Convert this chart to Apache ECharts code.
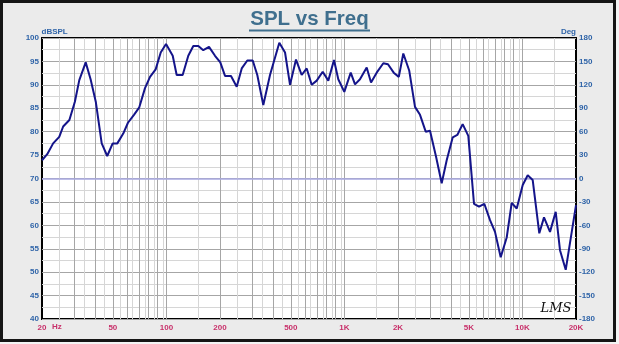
<!DOCTYPE html>
<html>
<head>
<meta charset="utf-8">
<script src="https://cdn.jsdelivr.net/npm/echarts@6/dist/echarts.min.js"></script>
<style>
  html, body { margin:0; padding:0; background:#f4f4f4; }
  #frame { position:absolute; left:0; top:0; width:616px; height:342px; box-sizing:border-box; border:3px solid #151515; background:#ebebeb; }
  #chart { position:absolute; left:0; top:0; width:619px; height:344px; }
</style>
</head>
<body>
<div id="frame"></div>
<div id="chart"></div>
<script>
// ---- data ----
const freqHz = [20,21.4,23.1,25.0,26.3,28.5,30.6,32.4,35.2,37.5,40.1,43.3,46.5,49.9,53.0,57.2,60.8,65.7,70.4,75.8,80.9,87.0,92.9,99.5,108.5,114.2,123.4,132.7,141.6,151.1,161.1,173.5,187.5,200.8,213.4,230.6,248.3,264.9,284.8,305.4,324,350.2,381.9,430.8,463.9,494.8,534.6,575.4,614,654.9,698.8,755.2,811.9,873.8,923.8,998.6,1085,1147,1223,1334,1411,1518,1654,1757,1892,2021,2142,2314,2492,2659,2862,3026,3270,3520,3755,4060,4308,4617,4966,5346,5705,6107,6577,7015,7551,8161,8706,9290,10040,10710,11420,12440,13220,14290,15380,16260,17510,20000];
const splDb = [73.9,75.2,77.5,78.9,81.1,82.5,86.4,91.0,94.8,91.2,86.4,77.5,74.8,77.5,77.5,79.6,81.9,83.6,85.2,89.3,91.7,93.3,96.9,98.7,96.2,92.1,92.1,96.2,98.3,98.3,97.4,98.1,96.2,94.8,91.9,91.9,89.6,93.5,95.2,95.2,92.1,85.7,92.1,99.0,96.9,90.0,95.4,92.1,93.5,90.0,90.9,92.8,90.9,95.3,91.2,88.5,92.6,90.1,91.2,93.7,90.5,92.6,94.6,94.4,92.6,91.7,96.7,93.0,85.3,83.6,80.0,80.2,74.7,69.0,73.9,78.8,79.3,81.6,79.1,64.6,64.0,64.6,61.1,58.6,53.2,57.4,64.8,63.6,68.6,70.7,69.7,58.3,61.7,58.6,62.9,54.7,50.5,64.3];
const xLabelHz = [20,50,100,200,500,1000,2000,5000,10000,20000];
const majorGridHz = [30,40,50,60,70,80,90,100,200,300,400,500,600,700,800,900,1000,2000,3000,4000,5000,6000,7000,8000,9000,10000];
const minorGridHz = [25,35,45,55,65,75,85,95,150,250,350,450,550,650,750,850,950,1500,2500,3500,4500,5500,6500,7500,8500,9500,15000];
const refLineDb = 70;

const FONT = 'Liberation Sans';
const chart = echarts.init(document.getElementById('chart'), null, {renderer:'canvas'});

const gridLines = [];
minorGridHz.forEach(f => gridLines.push({xAxis: Math.log10(f), lineStyle:{color:'#d6d6d6', width:1, type:'solid'}}));
majorGridHz.forEach(f => gridLines.push({xAxis: Math.log10(f), lineStyle:{color:'#a6a6a6', width:1, type:'solid'}}));

function fmtHz(f) {
  if (f >= 1000) return (f/1000) + 'K';
  return String(f);
}

chart.setOption({
  animation: false,
  backgroundColor: 'transparent',
  grid: { left:42, top:38, width:534, height:281, show:true, backgroundColor:'#ffffff', borderColor:'#000000', borderWidth:2 },
  xAxis: {
    type:'value', min: Math.log10(20), max: Math.log10(20000),
    axisLine:{show:false}, axisTick:{show:false}, splitLine:{show:false},
    axisLabel:{
      customValues: xLabelHz.map(f => Math.log10(f)),
      formatter: v => fmtHz(Math.round(Math.pow(10, v))),
      color:'#c8306a', fontFamily:FONT, fontWeight:'bold', fontSize:8, margin:5
    }
  },
  yAxis: [
    { type:'value', min:40, max:100, interval:2.5, position:'left',
      axisLine:{show:false}, axisTick:{show:false},
      splitLine:{show:true, lineStyle:{color:['#a6a6a6','#d6d6d6'], width:1}},
      axisLabel:{ formatter: v => (v % 5 === 0 ? String(v) : ''), color:'#2f64a8', fontFamily:FONT, fontWeight:'bold', fontSize:8, margin:3 }
    },
    { type:'value', min:-180, max:180, interval:30, position:'right',
      axisLine:{show:false}, axisTick:{show:false}, splitLine:{show:false},
      axisLabel:{ color:'#2f64a8', fontFamily:FONT, fontWeight:'bold', fontSize:8, margin:3 }
    }
  ],
  series: [
    { type:'line', data:[], silent:true, z:1,
      markLine:{ symbol:'none', silent:true, animation:false, label:{show:false}, emphasis:{disabled:true},
        data: gridLines.concat([{yAxis: refLineDb, lineStyle:{color:'#a9a9e2', width:1.5, type:'solid'}}]) }
    },
    { type:'line', z:5, showSymbol:false, symbol:'none', silent:true,
      data: freqHz.map((f,i) => [Math.log10(f), splDb[i]]),
      lineStyle:{ color:'#14148a', width:2 }
    }
  ],
  graphic: [
    { type:'text', x:309.5, y:19.7, style:{ text:'SPL vs Freq', fill:'#3f6f8e', font:'bold 20.5px "Liberation Sans"', align:'center', verticalAlign:'middle' } },
    { type:'line', shape:{ x1:249, y1:30.5, x2:370, y2:30.5 }, style:{ stroke:'#3f6f8e', lineWidth:2 } },
    { type:'text', x:41.5, y:31.7, style:{ text:'dBSPL', fill:'#2f64a8', font:'bold 8px "Liberation Sans"', align:'left', verticalAlign:'middle' } },
    { type:'text', x:576, y:31.7, style:{ text:'Deg', fill:'#2f64a8', font:'bold 8px "Liberation Sans"', align:'right', verticalAlign:'middle' } },
    { type:'text', x:52, y:327, style:{ text:'Hz', fill:'#c8306a', font:'bold 8px "Liberation Sans"', align:'left', verticalAlign:'middle' } },
    { type:'text', x:556, y:309, z:10, style:{ text:'LMS', fill:'#111111', font:'italic 13px "DejaVu Serif"', align:'center', verticalAlign:'middle' } }
  ]
});
</script>
</body>
</html>
